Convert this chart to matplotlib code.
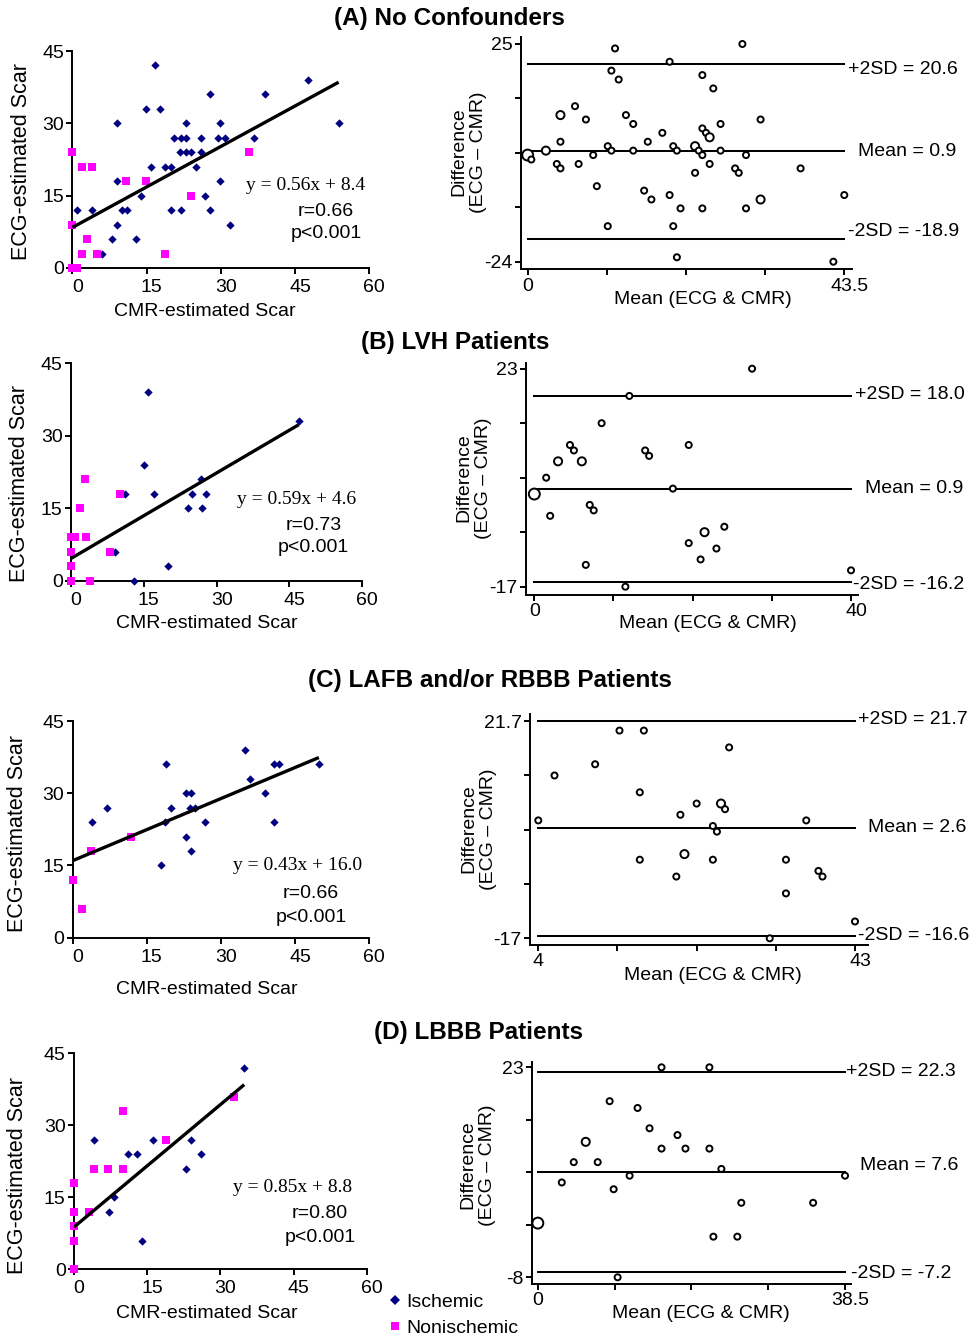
import matplotlib
matplotlib.use('Agg')
import matplotlib.pyplot as plt
import matplotlib.transforms as mtransforms
from matplotlib.lines import Line2D
import numpy as np

plt.rcParams['font.family'] = ['Liberation Sans', 'DejaVu Sans']

# ---- scatter data (CMR-estimated vs ECG-estimated scar) ----
a_isch_x = [16.8, 14.9, 17.8, 27.9, 38.9, 47.6, 53.8, 9, 22.9, 29.9, 20.6, 21.9, 22.9, 25.9, 29.5,
            30.9, 36.7, 21.7, 22.9, 23.9, 25.9, 15.8, 18.8, 20, 24.9, 9, 29.9, 13.9, 26.8, 1,
            4, 10, 11, 20, 21.9, 27.9, 9, 31.9, 8, 12.9, 5.9]
a_isch_y = [42, 33, 33, 36, 36, 39, 30, 30, 30, 30, 27, 27, 27, 27, 27,
            27, 27, 24, 24, 24, 24, 21, 21, 21, 21, 18, 18, 15, 15, 12,
            12, 12, 12, 12, 12, 12, 9, 9, 6, 6, 3]
a_non_x = [0, 2, 3.9, 10.9, 14.9, 35.6, 23.9, 0, 3, 2, 4.9, 18.8, 0, 1]
a_non_y = [24, 21, 21, 18, 18, 24, 15, 9, 6, 3, 3, 3, 0, 0]

b_isch_x = [15.9, 46.9, 15, 26.8, 11.1, 17, 25, 27.9, 24, 27, 9.1, 20, 13]
b_isch_y = [39, 33, 24, 21, 18, 18, 18, 18, 15, 15, 6, 3, 0]
b_non_x = [2.8, 1.9, 0, 0.9, 3, 0, 0, 0, 3.9, 10, 8]
b_non_y = [21, 15, 9, 9, 9, 6, 3, 0, 0, 18, 6]

c_isch_x = [34.8, 18.8, 40.7, 41.7, 49.8, 35.8, 22.9, 23.9, 38.8, 6.9, 19.8, 23.8, 24.8, 3.9,
            18.7, 26.8, 40.8, 22.9, 23.9, 17.9]
c_isch_y = [39, 36, 36, 36, 36, 33, 30, 30, 30, 27, 27, 27, 27, 24, 24, 24, 24, 21, 18, 15]
c_non_x = [3.8, 11.7, 0, 1.8]
c_non_y = [18, 21, 12, 6]

d_isch_x = [34.9, 4, 16.1, 23.9, 11.1, 13, 26.1, 22.9, 8.1, 7.1, 14]
d_isch_y = [42, 27, 27, 27, 24, 24, 24, 21, 15, 12, 6]
d_non_x = [32.8, 10, 18.9, 4, 7, 10, 0, 3, 0, 0, 0, 0]
d_non_y = [36, 33, 27, 21, 21, 21, 18, 12, 12, 9, 6, 0]

# regression: slope, intercept, r
fits = [(0.56, 8.4, '0.66'), (0.59, 4.6, '0.73'), (0.43, 16.0, '0.66'), (0.85, 8.8, '0.80')]

# ---- Bland-Altman data: mean, difference, number of overlapping patients ----
a_ba_mean = [0, 0.5, 2.5, 4, 4.5, 4.5, 4.5, 6.5, 7, 8, 9, 9.5, 11, 11, 11.5, 11.5, 12, 12.5, 13.5,
             14.5, 14.5, 16, 16.5, 17, 18.5, 19.5, 19.5, 20, 20, 20.5, 20.5, 21, 23, 23, 23.5,
             24, 24, 24, 24, 24.5, 25, 25, 25.5, 26.5, 26.5, 28.5, 29, 29.5, 30, 30, 32, 32,
             37.5, 42, 43.5]
a_ba_diff = [0, -1, 1, -2, -3, 3, 9, 11, -2, 8, 0, -7, 2, -16, 19, 1, 24, 17, 9,
             7, 1, -8, 3, -10, 5, 21, -9, 2, -16, 1, -23, -12, 2, -4, 1,
             18, 6, 0, -12, 5, 4, -2, 15, 7, 1, -3, -4, 25, 0, -12, 8, -10,
             -3, -24, -9]
a_ba_n = [3, 1, 2, 1, 1, 1, 2, 1, 1, 1, 1, 1, 1, 1, 1, 1, 1, 1, 1,
          1, 1, 1, 1, 1, 1, 1, 1, 1, 1, 1, 1, 1, 2, 1, 1,
          1, 1, 1, 1, 1, 2, 1, 1, 1, 1, 1, 1, 1, 1, 1, 1, 2,
          1, 1, 1]

b_ba_mean = [0, 1.5, 2, 3, 4.5, 5, 6, 6.5, 7, 7.5, 8.5, 11.5, 12, 14, 14.5, 17.5, 19.5, 19.5,
             21, 21.5, 23, 24, 27.5, 40]
b_ba_diff = [0, 3, -4, 6, 9, 8, 6, -13, -2, -3, 13, -17, 18, 8, 7, 1, 9, -9,
             -12, -7, -10, -6, 23, -14]
b_ba_n = [3, 1, 1, 2, 1, 1, 2, 1, 1, 1, 1, 1, 1, 1, 1, 1, 1, 1,
          1, 2, 1, 1, 1, 1]

c_ba_mean = [4, 6, 11, 14, 17, 16.5, 16.5, 21.5, 22, 21, 23.5, 25.5, 26, 25.5, 26.5, 27, 27.5,
             32.5, 34.5, 34.5, 37, 38.5, 39, 43]
c_ba_diff = [4, 12, 14, 20, 20, 9, -3, 5, -2, -6, 7, 3, 2, -3, 7, 6, 17,
             -17, -3, -9, 4, -5, -6, -14]
c_ba_n = [1, 1, 1, 1, 1, 1, 1, 1, 2, 1, 1, 1, 1, 1, 2, 1, 1,
          1, 1, 1, 1, 1, 1, 1]

d_ba_mean = [0, 3, 4.5, 6, 7.5, 9, 9.5, 10, 11.5, 12.5, 14, 15.5, 15.5, 17.5, 18.5, 21.5, 21.5,
             22, 23, 25, 25.5, 34.5, 38.5]
d_ba_diff = [0, 6, 9, 12, 9, 18, 5, -8, 7, 17, 14, 23, 11, 13, 11, 23, 11,
             -2, 8, -2, 3, 3, 7]
d_ba_n = [3, 1, 1, 2, 1, 1, 1, 1, 1, 1, 1, 1, 1, 1, 1, 1, 1,
          1, 1, 1, 1, 1, 1]

# mean, +2SD, -2SD
ba_stats = [(0.9, 20.6, -18.9), (0.9, 18.0, -16.2), (2.6, 21.7, -16.6), (7.6, 22.3, -7.2)]
ba_xrange = [(0, 43.5), (0, 40), (4, 43), (0, 38.5)]
ba_yrange = [(-24, 25), (-17, 23), (-17, 21.7), (-8, 23)]

titles = ['(A) No Confounders', '(B) LVH Patients', '(C) LAFB and/or RBBB Patients', '(D) LBBB Patients']

W, H = 977, 1341
fig = plt.figure(figsize=(W / 100, H / 100), dpi=100)
FS = 14


def px_rect(l, t, r, b):
    return [l / W, 1 - b / H, (r - l) / W, (b - t) / H]


def px_text(x, y, s, **kw):
    kw.setdefault('fontsize', FS)
    kw.setdefault('ha', 'center')
    kw.setdefault('va', 'center')
    fig.text(x / W, 1 - y / H, s, **kw)


def shift(label, dx):
    # nudge a tick label sideways by dx pixels
    off = mtransforms.ScaledTranslation(dx / 100, 0, fig.dpi_scale_trans)
    label.set_transform(label.get_transform() + off)


def style(ax):
    for side in ['top', 'right']:
        ax.spines[side].set_visible(False)
    for side in ['left', 'bottom']:
        ax.spines[side].set_linewidth(1.4)
    ax.tick_params(direction='out', length=4, width=1.4, labelsize=FS, pad=2)


def fmt(v):
    return ('%g' % v)


def scatter_panel(rect, ix, iy, nx, ny, fit):
    ax = fig.add_axes(px_rect(*rect))
    slope, icpt, r = fit
    xs = np.array([0, max(ix + nx)])
    ax.scatter(ix, iy, marker='D', s=18, color='#000080', linewidths=0, zorder=3, clip_on=False)
    ax.scatter(nx, ny, marker='s', s=28, color='#ff00ff', linewidths=0, zorder=3, clip_on=False)
    ax.plot(xs, slope * xs + icpt, color='black', lw=2.4, zorder=4, solid_capstyle='butt')
    ax.set_xlim(0, 60)
    ax.set_ylim(0, 45)
    ax.set_xticks([0, 15, 30, 45, 60])
    ax.set_yticks([0, 15, 30, 45])
    style(ax)
    ax.tick_params(axis='x', pad=4)
    for lab in ax.get_xticklabels():
        shift(lab, 5)
    return ax


def ba_panel(rect, xlim, ylim, xr, yr, mean, diff, n, stats):
    ax = fig.add_axes(px_rect(*rect))
    for v in stats:
        ax.plot(xr, [v, v], color='black', lw=1.45, zorder=2)
    sizes = [{1: 19, 2: 34, 3: 62}[k] for k in n]
    ax.scatter(mean, diff, s=sizes, facecolors='white', edgecolors='black', linewidths=1.4,
               zorder=3, clip_on=False)
    ax.set_xlim(*xlim)
    ax.set_ylim(*ylim)
    xt = np.linspace(xr[0], xr[1], 5)
    yt = np.linspace(yr[0], yr[1], 5)
    ax.set_xticks(xt)
    ax.set_xticklabels([fmt(xr[0]), '', '', '', fmt(xr[1])])
    ax.set_yticks(yt)
    ax.set_yticklabels([fmt(yr[0]), '', '', '', fmt(yr[1])])
    style(ax)
    shift(ax.get_xticklabels()[-1], 5)
    return ax


scatter_rects = [(72.3, 51, 369.3, 268), (71, 363.2, 362.3, 580.7),
                 (72.7, 721, 369.3, 937.7), (74, 1053.3, 366.7, 1269.3)]
ba_rects = [(521, 36.7, 851.7, 269.3), (526, 363.3, 858, 594.7),
            (530, 714, 868.3, 945), (531.7, 1061.7, 850.7, 1284)]
ba_xlims = [(-0.92, 44.52), (-1.05, 40.88), (2.98, 44.64), (-0.77, 39.21)]
ba_ylims = [(-25.71, 26.64), (-18.47, 23.99), (-18.19, 22.95), (-8.99, 23.83)]

scat_data = [(a_isch_x, a_isch_y, a_non_x, a_non_y), (b_isch_x, b_isch_y, b_non_x, b_non_y),
             (c_isch_x, c_isch_y, c_non_x, c_non_y), (d_isch_x, d_isch_y, d_non_x, d_non_y)]
ba_data = [(a_ba_mean, a_ba_diff, a_ba_n), (b_ba_mean, b_ba_diff, b_ba_n),
           (c_ba_mean, c_ba_diff, c_ba_n), (d_ba_mean, d_ba_diff, d_ba_n)]

# text positions in pixels
title_pos = [(449, 18), (455, 343), (490, 681), (478, 1033)]
sx_lab = [(205, 312), (207, 624), (207, 989), (207, 1313)]
sy_lab = [(22, 161), (20, 483), (18, 833), (18, 1175)]
eq_pos = [(306, 185), (297, 500), (298, 866), (293, 1188)]
r_pos = [(326, 211), (314, 525), (311, 894), (320, 1214)]
p_pos = [(326, 234), (313, 548), (311, 918), (320, 1238)]
bx_lab = [(703, 299), (708, 624), (713, 975), (701, 1313)]
by_lab = [(469, 152), (474, 478), (479, 829), (478, 1165)]
plus_pos = [(848, 69), (855, 394), (858, 719), (846, 1071)]
mean_pos = [(858, 151), (865, 489), (868, 828), (860, 1166)]
minus_pos = [(848, 232), (853, 584), (858, 936), (851, 1273)]

for i in range(4):
    ix, iy, nx, ny = scat_data[i]
    scatter_panel(scatter_rects[i], ix, iy, nx, ny, fits[i])
    m, d, n = ba_data[i]
    mu, up, lo = ba_stats[i]
    ba_panel(ba_rects[i], ba_xlims[i], ba_ylims[i], ba_xrange[i], ba_yrange[i], m, d, n, (mu, up, lo))

    px_text(*title_pos[i], titles[i], fontsize=17.5, fontweight='bold')
    px_text(*sx_lab[i], 'CMR-estimated Scar')
    px_text(*sy_lab[i], 'ECG-estimated Scar', rotation=90, fontsize=15.5)
    slope, icpt, r = fits[i]
    px_text(*eq_pos[i], 'y = %.2fx + %.1f' % (slope, icpt), family='Liberation Serif', fontsize=14)
    px_text(*r_pos[i], 'r=' + r)
    px_text(*p_pos[i], 'p<0.001')
    px_text(*bx_lab[i], 'Mean (ECG & CMR)')
    px_text(*by_lab[i], 'Difference\n(ECG \u2013 CMR)', rotation=90, linespacing=1.2)
    px_text(*plus_pos[i], '+2SD = %.1f' % up, ha='left')
    px_text(*mean_pos[i], 'Mean = %.1f' % mu, ha='left')
    px_text(*minus_pos[i], '-2SD = %.1f' % lo, ha='left')

handles = [Line2D([], [], ls='none', marker='D', ms=5, color='#000080', mew=0),
           Line2D([], [], ls='none', marker='s', ms=6, color='#ff00ff', mew=0)]
fig.legend(handles, ['Ischemic', 'Nonischemic'], loc='upper left',
           bbox_to_anchor=(390 / W, 1 - 1293 / H), frameon=False, fontsize=FS,
           handlelength=0.5, handletextpad=0.35, borderpad=0, borderaxespad=0, labelspacing=0.45)

fig.savefig('out.png', dpi=100)
